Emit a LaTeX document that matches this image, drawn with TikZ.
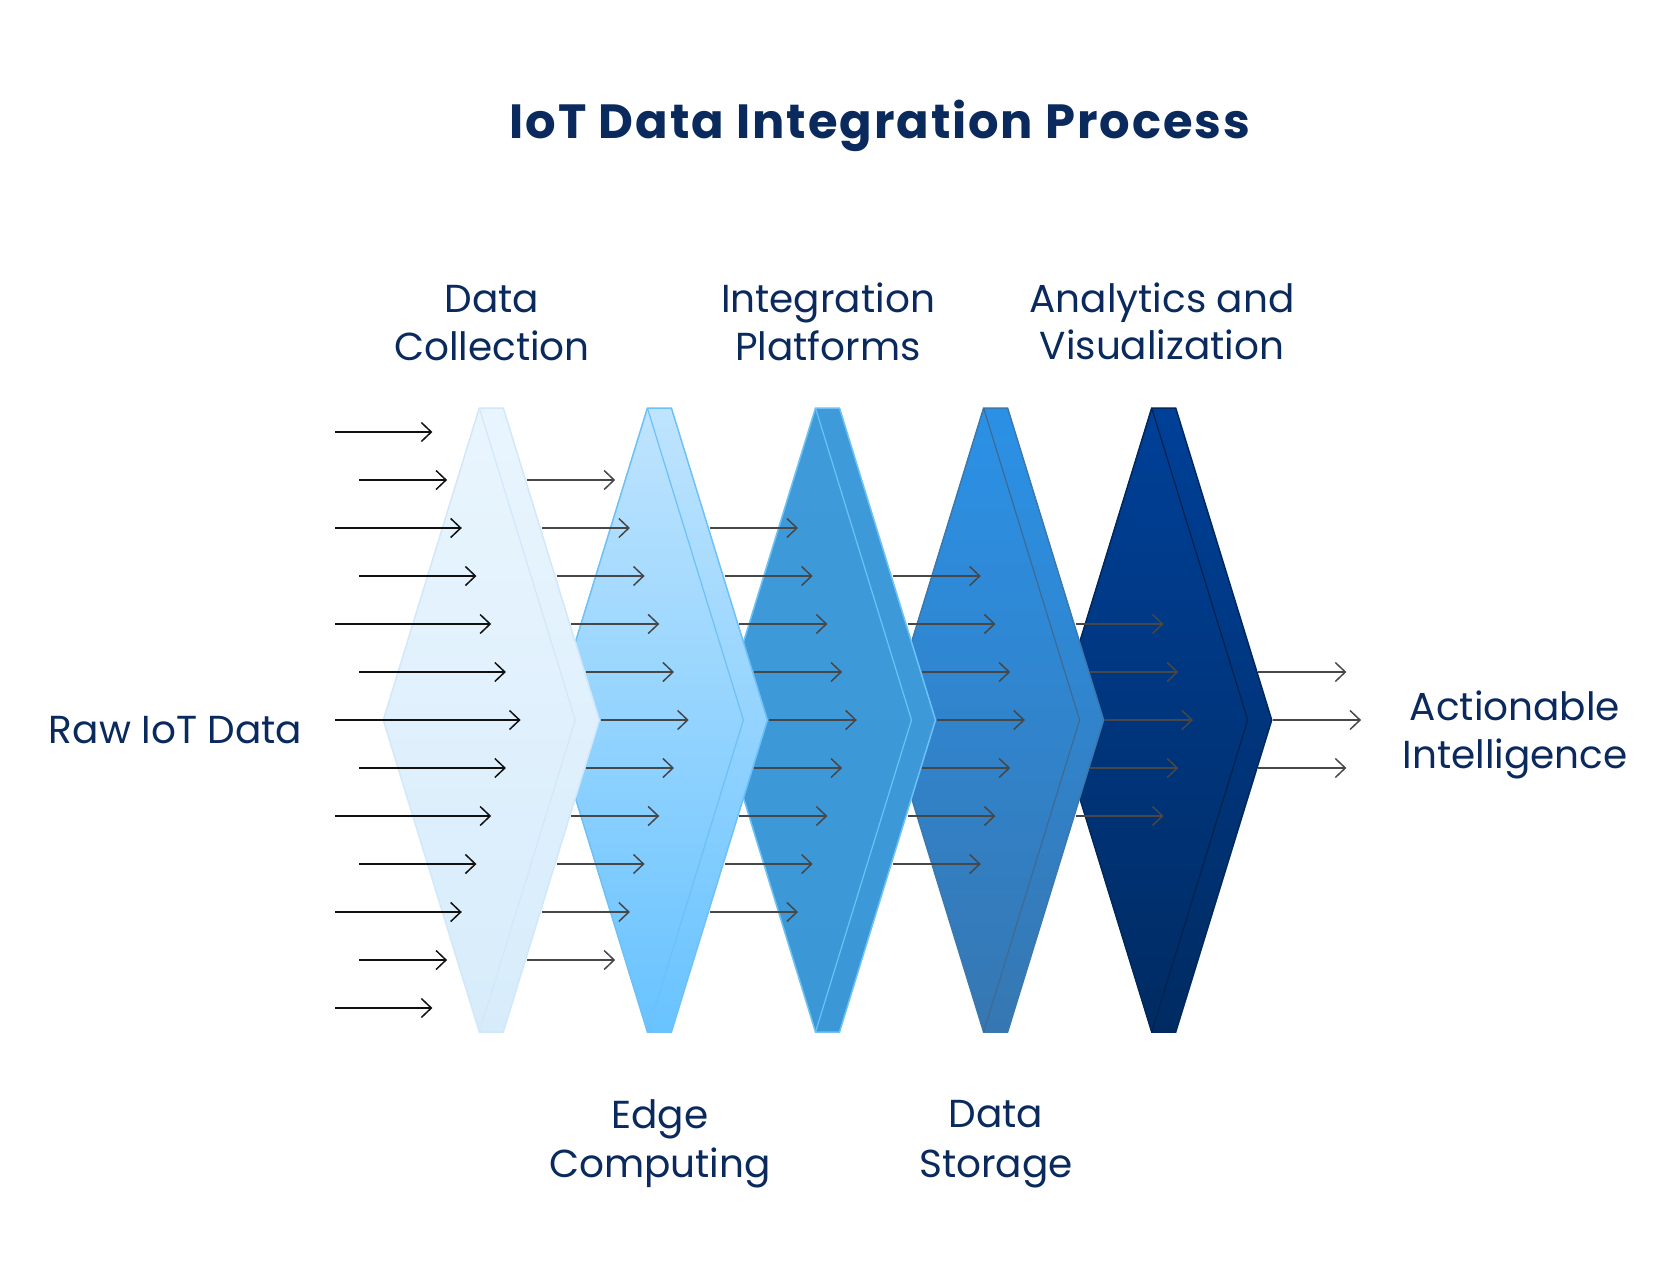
\documentclass[tikz,border=0pt]{standalone}
\usepackage{fontspec}
\setmainfont{Poppins}
\usetikzlibrary{arrows.meta}
\definecolor{navy}{HTML}{0A2A5E}
\definecolor{ink}{HTML}{111111}
\definecolor{graya}{HTML}{474747}
\definecolor{tA}{HTML}{E9F5FE}\definecolor{bA}{HTML}{D7ECFB}\definecolor{sA}{HTML}{D2E8FA}\definecolor{iA}{HTML}{D2E8FA}
\definecolor{tB}{HTML}{BFE4FE}\definecolor{bB}{HTML}{68C3FF}\definecolor{sB}{HTML}{6EC0F8}\definecolor{iB}{HTML}{6EC0F8}
\definecolor{tC}{HTML}{3E9AD8}\definecolor{bC}{HTML}{3C97D6}\definecolor{sC}{HTML}{6CC2F6}\definecolor{iC}{HTML}{6CC2F6}
\definecolor{tD}{HTML}{2B91E6}\definecolor{bD}{HTML}{3677B2}\definecolor{sD}{HTML}{3A78AE}\definecolor{iD}{HTML}{3D6B95}
\definecolor{tE}{HTML}{004098}\definecolor{bE}{HTML}{002B62}\definecolor{sE}{HTML}{00285C}\definecolor{iE}{HTML}{02224F}
\tikzset{
  flow/.style={line width=1.5pt,-{Straight Barb[length=10pt,width=19pt]}},
  lbl/.style={text=navy,font=\fontsize{39}{44}\selectfont,anchor=base,inner sep=0pt},
  ttl/.style={text=navy,font=\bfseries\fontsize{48}{54}\selectfont\addfontfeature{LetterSpace=4},anchor=base,inner sep=0pt},
  chev/.style={line width=1.5pt,line join=miter}
}
\begin{document}
\begin{tikzpicture}[x=1pt,y=-1pt]
\useasboundingbox (0,0) rectangle (1656,1272);
% chevrons, back to front
\foreach \i/\cl in {5/E,4/D,3/C,2/B,1/A}{
  \pgfmathsetmacro{\tl}{479.3+168.1*(\i-1)}
  \coordinate (tl\i) at (\tl,408);
  \coordinate (tr\i) at (\tl+24,408);
  \coordinate (r\i) at (\tl+120,720);
  \coordinate (br\i) at (\tl+24,1032);
  \coordinate (bl\i) at (\tl,1032);
  \coordinate (l\i) at (\tl-96,720);
  \coordinate (ri\i) at (\tl+96,720);
  \shade[chev,top color=t\cl,bottom color=b\cl,draw=s\cl]
    (tl\i) -- (tr\i) -- (r\i) -- (br\i) -- (bl\i) -- (l\i) -- cycle;
  \draw[line width=1.2pt,i\cl] (tl\i) -- (ri\i) -- (bl\i);
}
% input arrows
\foreach \k in {0,...,12}{
  \pgfmathtruncatemacro{\ad}{abs(\k-6)}
  \pgfmathsetmacro{\yy}{432+48*\k}
  \pgfmathsetmacro{\ex}{520.6-14.7*\ad}
  \pgfmathsetmacro{\sx}{mod(\ad,2)==0 ? 335 : 359}
  \coordinate (s0-\k) at (\sx,\yy);
  \coordinate (e0-\k) at (\ex,\yy);
  \draw[flow,ink] (s0-\k) -- (e0-\k);
}
% stage arrows
\foreach \c in {1,...,5}{
  \pgfmathtruncatemacro{\m}{6-\c}
  \foreach \d in {-\m,...,\m}{
    \pgfmathsetmacro{\yy}{720+48*\d}
    \pgfmathsetmacro{\ex}{520.6+168.1*\c-14.7*abs(\d)}
    \coordinate (s\c-\d) at (\ex-88,\yy);
    \coordinate (e\c-\d) at (\ex,\yy);
    \draw[flow,graya] (s\c-\d) -- (e\c-\d);
  }
}
% texts
\node[ttl] (title) at (880,138) {IoT Data Integration Process};
\node[lbl] (dc1) at (492,312.7) {Data};
\node[lbl] (dc2) at (492,360) {Collection};
\node[lbl] (ip1) at (828,312.7) {Integration};
\node[lbl] (ip2) at (828,360) {Platforms};
\node[lbl] (av1) at (1162,312.5) {Analytics and};
\node[lbl] (av2) at (1162,359) {Visualization};
\node[lbl] (ec1) at (660,1128) {Edge};
\node[lbl] (ec2) at (660,1177) {Computing};
\node[lbl] (ds1) at (996,1127) {Data};
\node[lbl] (ds2) at (996,1177) {Storage};
\node[lbl] (raw) at (175.5,743.3) {Raw IoT Data};
\node[lbl] (ai1) at (1515,720) {Actionable};
\node[lbl] (ai2) at (1515,768) {Intelligence};
\end{tikzpicture}
\end{document}
